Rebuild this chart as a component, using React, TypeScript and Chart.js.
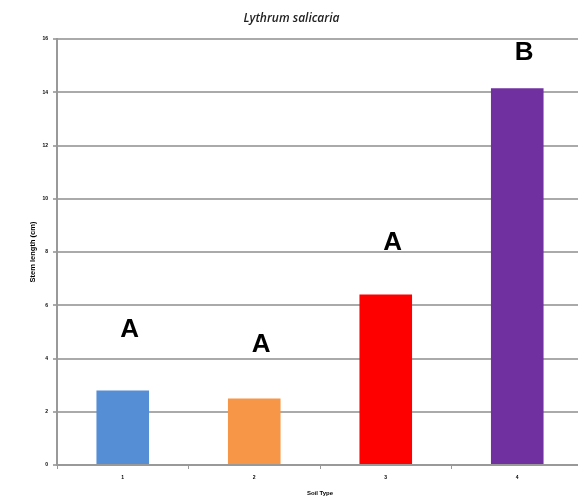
import React, { useEffect, useRef } from "react";
import { Chart, registerables } from "chart.js";

Chart.register(...registerables);

const categories = ["1", "2", "3", "4"];
const stemLength = [2.8, 2.5, 6.4, 14.15];
const barColors = ["#558ED5", "#F79646", "#FF0000", "#7030A0"];
const letterLabels = ["A", "A", "A", "B"];
const letterValues = [5.1, 4.55, 8.4, 15.5];
const chartTitle = "Lythrum salicaria";
const xTitle = "Soil Type";
const yTitle = "Stem length (cm)";

const letterPlugin = {
  id: "letters",
  afterDatasetsDraw(chart: any) {
    const ctx = chart.ctx;
    const meta = chart.getDatasetMeta(0);
    const y = chart.scales.y;
    ctx.save();
    ctx.font = "bold 26px Arial, 'Liberation Sans', sans-serif";
    ctx.fillStyle = "#000";
    ctx.textAlign = "center";
    ctx.textBaseline = "middle";
    meta.data.forEach((bar: any, i: number) => {
      ctx.fillText(letterLabels[i], bar.x + 7, y.getPixelForValue(letterValues[i]) + 1);
    });
    ctx.restore();
  },
};

export default function App() {
  const ref = useRef<HTMLCanvasElement>(null);
  useEffect(() => {
    const chart = new Chart(ref.current!, {
      type: "bar",
      data: {
        labels: categories,
        datasets: [
          {
            data: stemLength,
            backgroundColor: barColors,
            categoryPercentage: 1,
            barPercentage: 0.4,
          },
        ],
      },
      options: {
        animation: false,
        responsive: false,
        devicePixelRatio: 1,
        layout: { padding: { top: 0, right: 7, bottom: 0, left: 0 } },
        plugins: {
          legend: { display: false },
          tooltip: { enabled: false },
          title: {
            display: true,
            text: chartTitle,
            color: "#222",
            font: { family: "'Open Sans', sans-serif", size: 12, style: "italic", weight: "600" },
            padding: { top: 11, bottom: 13.6 },
          },
        },
        scales: {
          x: {
            afterFit: (s: any) => {
              s.height = 34;
            },
            grid: {
              drawOnChartArea: false,
              drawTicks: true,
              tickLength: 4,
              color: "#999",
              lineWidth: 1,
            },
            border: { color: "#999", width: 2 },
            ticks: {
              color: "#000",
              padding: 6,
              font: { family: "Arial", size: 5, weight: "bold" },
            },
            title: {
              display: true,
              text: xTitle,
              color: "#000",
              font: { family: "Arial", size: 6, weight: "bold" },
              padding: 2,
            },
          },
          y: {
            min: 0,
            max: 16,
            afterFit: (s: any) => {
              s.width = 57;
            },
            ticks: {
              stepSize: 2,
              color: "#000",
              padding: 5,
              font: { family: "Arial", size: 5, weight: "bold" },
            },
            grid: {
              color: "#aaa",
              lineWidth: 2,
              tickLength: 4,
            },
            border: { color: "#999", width: 2 },
            title: {
              display: true,
              text: yTitle,
              color: "#000",
              font: { family: "Arial", size: 7.5, weight: "bold" },
              padding: { top: 28, bottom: 0 },
            },
          },
        },
      },
      plugins: [letterPlugin],
    });
    return () => chart.destroy();
  }, []);
  return (
    <div style={{ position: "fixed", left: 0, top: 0, width: 578, height: 499, overflow: "hidden", background: "#fff" }}>
      <canvas ref={ref} width={590} height={499} style={{ width: 590, height: 499, display: "block" }} />
    </div>
  );
}
